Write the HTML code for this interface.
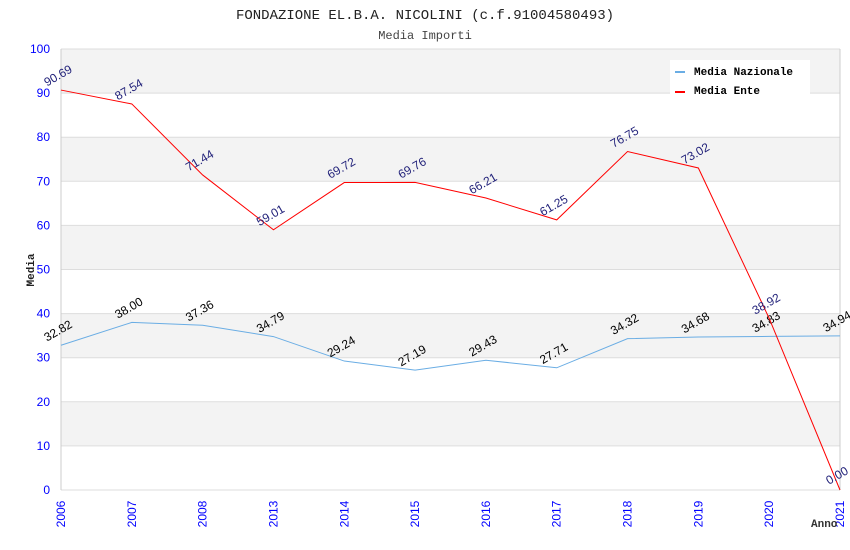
<!DOCTYPE html>
<html><head><meta charset="utf-8"><style>
body{margin:0;background:#fff}
svg{display:block}
</style></head><body>
<svg id="chart" width="850" height="550" xmlns="http://www.w3.org/2000/svg">
<text x="425" y="19" text-anchor="middle" font-family="Liberation Mono, monospace" font-size="14" fill="#222">FONDAZIONE EL.B.A. NICOLINI (c.f.91004580493)</text>
<text x="425" y="39" text-anchor="middle" font-family="Liberation Mono, monospace" font-size="12" fill="#444">Media Importi</text>
<g id="grid"></g>
<g id="axes"></g>
<g id="series"></g>
<text transform="translate(34,270) rotate(-90)" text-anchor="middle" font-family="Liberation Mono, monospace" font-size="11" font-weight="bold" fill="#222">Media</text>
<text x="811" y="527" font-family="Liberation Mono, monospace" font-size="11" font-weight="bold" fill="#333">Anno</text>
<g>
<rect x="670" y="60" width="140" height="36" fill="#fff"/>
<g>
<rect x="675" y="71" width="10" height="2" fill="#6aade4"/>
<text x="694" y="75" font-family="Liberation Mono, monospace" font-size="11" font-weight="bold" fill="#000">Media Nazionale</text></g>
<g>
<rect x="675" y="91" width="10" height="2" fill="#f00"/>
<text x="694" y="94" font-family="Liberation Mono, monospace" font-size="11" font-weight="bold" fill="#000">Media Ente</text></g>
</g>
</svg>
<script>
const categories=["2006","2007","2008","2013","2014","2015","2016","2017","2018","2019","2020","2021"];
const nazionale=[32.82,38.00,37.36,34.79,29.24,27.19,29.43,27.71,34.32,34.68,34.83,34.94];
const ente=[90.69,87.54,71.44,59.01,69.72,69.76,66.21,61.25,76.75,73.02,38.92,0.00];
const yTicks=[0,10,20,30,40,50,60,70,80,90,100];
const NS="http://www.w3.org/2000/svg";
const L=61,R=840,T=49,B=490;
const x=i=>L+i*(R-L)/(categories.length-1);
const y=v=>B-(v/100)*(B-T);
function mk(tag,attrs,parent){const e=document.createElementNS(NS,tag);for(const k in attrs)e.setAttribute(k,attrs[k]);parent.appendChild(e);return e;}
const grid=document.getElementById('grid'),axes=document.getElementById('axes'),series=document.getElementById('series');
for(let i=0;i<yTicks.length-1;i++){
  if(i%2===1){const r=mk('rect',{x:L,y:y(yTicks[i+1]),width:R-L,height:y(yTicks[i])-y(yTicks[i+1]),fill:'#f3f3f3'},grid);
  
  }
}
yTicks.forEach(t=>{
  const l=mk('line',{x1:L,x2:R,y1:y(t),y2:y(t),stroke:'#ddd','stroke-width':1},grid);
  
  
  const tx=mk('text',{x:50,y:y(t)+4,'text-anchor':'end','font-family':'Liberation Sans, sans-serif','font-size':12,fill:'#00f'},axes);
  tx.textContent=t;
  
  
});
const ax=mk('line',{x1:L,x2:L,y1:T,y2:B,stroke:'#ccc'},axes);


const ax2=mk('line',{x1:R,x2:R,y1:T,y2:B,stroke:'#ccc'},axes);


categories.forEach((c,i)=>{
  const t=mk('text',{transform:`translate(${x(i)+4},${B+24}) rotate(-90)`,'text-anchor':'middle','font-family':'Liberation Sans, sans-serif','font-size':12,fill:'#00f'},axes);
  t.textContent=c;
  
  
});
function drawSeries(vals,color,labelColor,name){
  const p=mk('polyline',{points:vals.map((v,i)=>x(i)+','+y(v)).join(' '),fill:'none',stroke:color,'stroke-width':1},series);
  
  
  vals.forEach((v,i)=>{
    const t=mk('text',{transform:`translate(${x(i)-1},${y(v)-11}) rotate(-30)`,'text-anchor':'middle','font-family':'Liberation Sans, sans-serif','font-size':12,fill:labelColor},series);
    t.textContent=v.toFixed(2);
    
    
  });
}
drawSeries(nazionale,'#6aade4','#000','media-nazionale');
drawSeries(ente,'#f00','#22227a','media-ente');
</script>
</body></html>
